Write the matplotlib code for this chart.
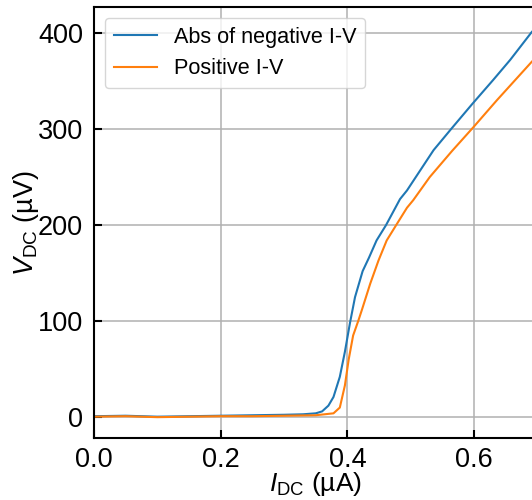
import matplotlib
matplotlib.use("Agg")
import matplotlib.pyplot as plt

plt.rcParams['font.family'] = ['Liberation Sans', 'DejaVu Sans']
plt.rcParams['mathtext.fontset'] = 'custom'
plt.rcParams['mathtext.rm'] = 'Liberation Sans'
plt.rcParams['mathtext.it'] = 'Liberation Sans:italic'

# abs of negative branch (uA, uV)
i_neg = [0.0, 0.05, 0.1, 0.15, 0.2, 0.25, 0.3, 0.33, 0.35, 0.36, 0.37, 0.378,
         0.388, 0.396, 0.404, 0.412, 0.424, 0.434, 0.446, 0.461, 0.483,
         0.494, 0.525, 0.536, 0.565, 0.597, 0.63, 0.657, 0.691, 0.70]
v_neg = [1, 1.5, 0.5, 1, 1.5, 2, 2.5, 3, 4, 6, 12, 21,
         42, 68, 98, 125, 152, 166, 184, 200, 227,
         236, 267, 278, 301, 326, 351, 372, 401, 407]

# positive branch
i_pos = [0.0, 0.05, 0.1, 0.15, 0.2, 0.25, 0.3, 0.35, 0.378, 0.388, 0.396,
         0.402, 0.409, 0.417, 0.423, 0.436, 0.449, 0.462, 0.477, 0.494, 0.504,
         0.53, 0.565, 0.599, 0.636, 0.691, 0.70]
v_pos = [0.5, 1, 0, 0.5, 1, 1, 1.5, 2, 4, 10, 33,
         60, 85, 100, 112, 139, 163, 184, 200, 218, 226,
         250, 277, 302, 330, 370, 376]

fig = plt.figure(figsize=(5.32, 5.0), dpi=100)
ax = fig.add_axes([0.1767, 0.1234, 0.8336, 0.8626])

ax.plot(i_neg, v_neg, color='#1f77b4', lw=1.5, label='Abs of negative I-V')
ax.plot(i_pos, v_pos, color='#ff7f0e', lw=1.5, label='Positive I-V')

ax.set_xlim(0, 0.7)
ax.set_ylim(-22, 427)
ax.set_xticks([0.0, 0.2, 0.4, 0.6])
ax.set_yticks([0, 100, 200, 300, 400])
ax.grid(True, color='#b0b0b0', lw=1.1)
ax.tick_params(direction='in', length=6, width=1.5, labelsize=19.5)
ax.tick_params(axis='x', pad=6.5)
ax.tick_params(axis='y', pad=8)
for s in ax.spines.values():
    s.set_linewidth(1.5)

ax.set_xlabel(r'$I_\mathrm{DC}$ (µA)', fontsize=19, va='bottom')
ax.set_ylabel(r'$V_\mathrm{DC}$ (µV)', fontsize=19.5)
ax.xaxis.set_label_coords(0.5, -0.1395)
ax.yaxis.set_label_coords(-0.12, 0.5)
ax.legend(loc='upper left', fontsize=15.6)

fig.savefig('out.png', dpi=100)
